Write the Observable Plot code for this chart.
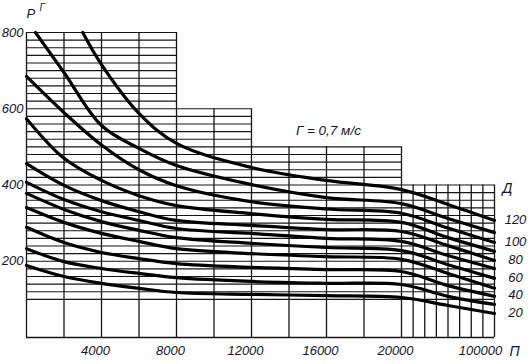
<!DOCTYPE html>
<html>
<head>
<meta charset="utf-8">
<script src="https://cdn.jsdelivr.net/npm/d3@7"></script>
<script src="https://cdn.jsdelivr.net/npm/@observablehq/plot@0.6"></script>
<style>
  html, body { margin: 0; padding: 0; background: #fff; }
  #chart svg { display: block; }
</style>
</head>
<body>
<div id="chart"></div>
<script>
// ---- data ----
const P = [0, 2000, 4000, 6000, 8000, 12000, 16000, 20000, 60000, 100000];
const p120 = [3000, 4000, 6000, 8000, 12000, 16000, 20000, 60000, 100000];
const r120 = [800, 716, 588, 509, 446, 412, 388, 349, 307];
const p110 = [480, 2000, 4000, 6000, 8000, 12000, 16000, 20000, 60000, 100000];
const r110 = [800, 695, 556, 496, 451, 401, 367, 351, 312, 275];
const r100 = [685, 590, 505, 440, 398, 356, 337, 326, 287, 249];
const r90  = [574, 470, 412, 372, 346, 325, 310, 302, 262, 226];
const r80  = [456, 399, 359, 330, 307, 294, 283, 278, 241, 202];
const r70  = [407, 362, 330, 307, 286, 273, 260, 252, 215, 181];
const r60  = [378, 336, 304, 281, 262, 247, 236, 228, 191, 155];
const r50  = [341, 302, 273, 252, 233, 220, 212, 205, 168, 129];
const r40  = [289, 249, 223, 207, 194, 184, 178, 173, 136, 108];
const r30  = [233, 199, 181, 168, 157, 147, 142, 139, 108, 87];
const r20  = [189, 160, 142, 129, 118, 113, 110, 105, 84, 63];

const dValues = [120, 110, 100, 90, 80, 70, 60, 50, 40, 30, 20];
const dLabels = [120, 100, 80, 60, 40, 20];
const yTicks = [200, 400, 600, 800];
const xTicks = [4000, 8000, 12000, 16000, 20000];
const xTicksFar = [100000];
const note = [{P: 16100, R: 543, text: "Г = 0,7 м/с"}];

// grid layout of the nomogram (stepped top edge)
const regionEnd = [8000, 12000, 20000, 100000];
const regionTop = [800, 600, 500, 400];
const hLines = d3.range(100, 801, 20);
const vLines = [...d3.range(0, 20001, 2000), ...d3.range(30000, 100001, 10000)];

// ---- build tables ----
const series = {
  120: [p120, r120], 110: [p110, r110], 100: [P, r100], 90: [P, r90], 80: [P, r80],
  70: [P, r70], 60: [P, r60], 50: [P, r50], 40: [P, r40], 30: [P, r30], 20: [P, r20]
};
const rows = dValues.flatMap(d => {
  const [ps, rs] = series[d];
  return ps.map((p, i) => ({D: d, P: p, R: rs[i]}));
});
const ends = dLabels.map(d => {
  const [ps, rs] = series[d];
  return {D: d, P: ps[ps.length - 1], R: rs[rs.length - 1]};
});
const hEnd = v => { for (let i = regionTop.length - 1; i >= 0; i--) if (v <= regionTop[i]) return regionEnd[i]; return regionEnd[0]; };
const vTop = x => { for (let i = 0; i < regionEnd.length; i++) if (x <= regionEnd[i]) return regionTop[i]; return regionTop[regionTop.length - 1]; };

const ink = "#151515";
const txt = "#14142a";
const font = "'Liberation Sans', Arial, sans-serif";

const chart = Plot.plot({
  width: 528,
  height: 364,
  marginLeft: 26,
  marginRight: 34,
  marginTop: 32,
  marginBottom: 27,
  style: {fontFamily: font, fontStyle: "italic", background: "#fff", overflow: "visible"},
  x: {type: "linear", domain: [0, 20000, 100000], range: [26, 401, 494], axis: null},
  y: {type: "linear", domain: [0, 800], range: [337, 32], axis: null},
  marks: [
    // horizontal grid
    Plot.ruleY(hLines, {y: d => d, x1: 0, x2: d => hEnd(d), stroke: ink, strokeWidth: 1.1}),
    // vertical grid
    Plot.ruleX(vLines, {x: d => d, y1: 0, y2: d => vTop(d), stroke: ink, strokeWidth: 1.3}),
    // bottom axis line
    Plot.ruleY([0], {x1: 0, x2: 100000, stroke: ink, strokeWidth: 1.4}),
    // curves
    Plot.line(rows, {x: "P", y: "R", z: "D", curve: "catmull-rom", stroke: "#000", strokeWidth: 3.2, strokeLinecap: "round"}),
    // y tick labels
    Plot.text(yTicks, {x: 0, y: d => d, text: d => String(d), textAnchor: "end", dx: -3, fontSize: 13, fill: txt}),
    // x tick labels
    Plot.text(xTicks, {x: d => d, y: 0, text: d => String(d), dx: -6, dy: 13, lineAnchor: "middle", fontSize: 13, fill: txt}),
    Plot.text(xTicksFar, {x: d => d, y: 0, text: d => String(d), dx: -14, dy: 13, lineAnchor: "middle", fontSize: 13, fill: txt}),
    // axis names
    Plot.text(["Р"], {frameAnchor: "top-left", text: d => d, textAnchor: "start", dx: 0, dy: -15, lineAnchor: "bottom", fontSize: 13, fill: txt}),
    Plot.text(["Г"], {frameAnchor: "top-left", text: d => d, textAnchor: "start", dx: 13, dy: -22, lineAnchor: "bottom", fontSize: 10, fill: txt}),
    Plot.text(["П"], {x: 100000, y: 0, text: d => d, textAnchor: "start", dx: 15, dy: 14, lineAnchor: "middle", fontSize: 14, fill: txt}),
    Plot.text(["Д"], {x: 100000, y: 400, text: d => d, textAnchor: "start", dx: 8, dy: 8, lineAnchor: "bottom", fontSize: 14, fill: txt}),
    // curve labels (Д values)
    Plot.text(ends, {x: "P", y: "R", text: d => String(d.D), textAnchor: "middle", dx: 21, dy: -1, fontSize: 13, fill: txt}),
    // annotation
    Plot.text(note, {x: "P", y: "R", text: "text", fontSize: 13.5, fill: txt})
  ]
});
document.getElementById("chart").appendChild(chart);
</script>
</body>
</html>
